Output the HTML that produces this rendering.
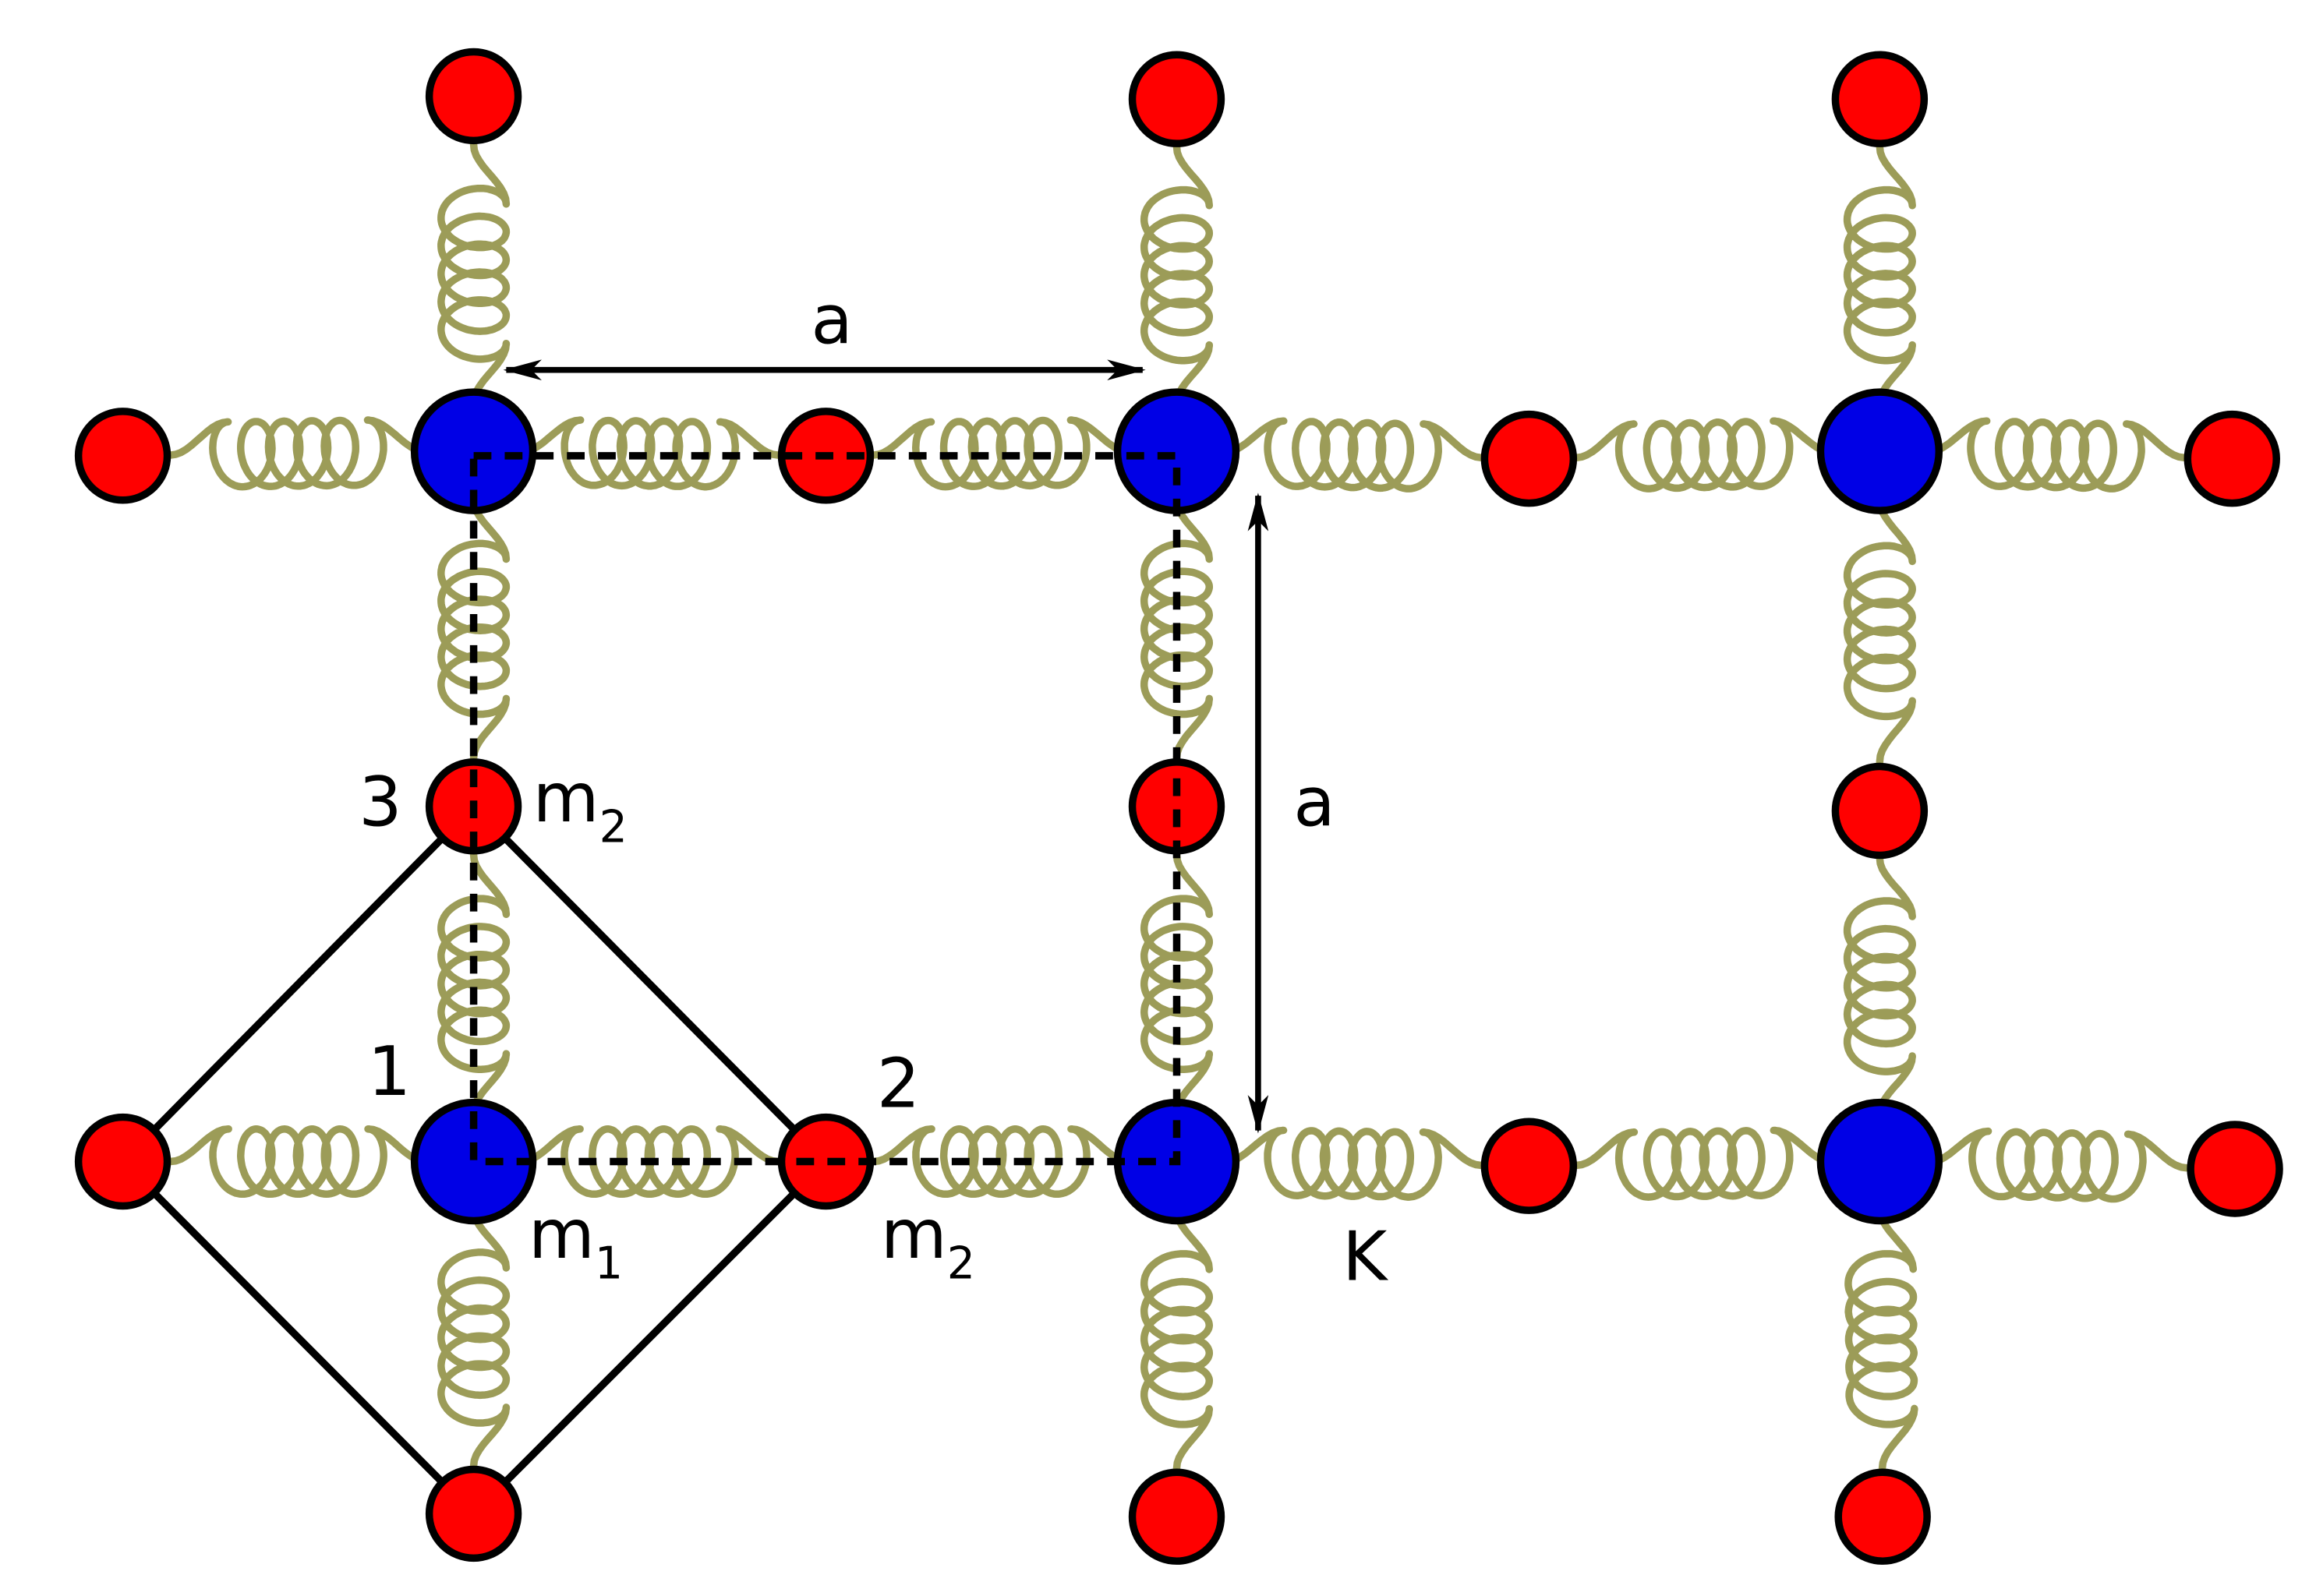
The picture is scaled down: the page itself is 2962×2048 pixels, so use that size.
<!DOCTYPE html>
<html><head><meta charset="utf-8"><style>html,body{margin:0;padding:0;background:#fff}svg{display:block}</style></head>
<body>
<svg id="s" width="2962" height="2048" viewBox="0 0 1560 1078.6" preserveAspectRatio="none" xmlns="http://www.w3.org/2000/svg" font-family="DejaVu Sans, Liberation Sans, sans-serif">
<defs><marker id="ah" markerWidth="26" markerHeight="14" refX="24" refY="7" orient="auto-start-reverse" markerUnits="userSpaceOnUse" viewBox="0 0 26 14"><path d="M0,0 L26,7 L0,14 L7,7 Z" fill="#000"/></marker></defs>
<g id="springs"></g>
<g id="diamond"></g>
<g id="nodes"></g>
<g id="dash"></g>
<g id="arrows"></g>
<g id="labels" font-size="46" fill="#000"></g>
</svg>
<script>
const NS='http://www.w3.org/2000/svg';
const blueNodes=[[320,305],[795,305],[1270,305],[320,785],[795,785],[1270,785]];
const redNodes=[[320,65],[795,67],[1270,67],[83,308],[558,308],[1033,310],[1508,310],[320,545],[795,545],[1270,548],[83,785],[558,785],[1033,788],[1510,790],[320,1023],[795,1025],[1272,1025]];
const hSprings=[[[83,308],[320,305]],[[320,305],[558,308]],[[558,308],[795,305]],[[795,305],[1033,310]],[[1033,310],[1270,305]],[[1270,305],[1508,310]],
 [[83,785],[320,785]],[[320,785],[558,785]],[[558,785],[795,785]],[[795,785],[1033,788]],[[1033,788],[1270,785]],[[1270,785],[1510,790]]];
const vSprings=[[[320,65],[320,305]],[[320,305],[320,545]],[[320,545],[320,785]],[[320,785],[320,1023]],
 [[795,67],[795,305]],[[795,305],[795,545]],[[795,545],[795,785]],[[795,785],[795,1025]],
 [[1270,67],[1270,305]],[[1270,305],[1270,548]],[[1270,548],[1270,785]],[[1270,785],[1272,1025]]];
function el(tag,attrs,parent){const e=document.createElementNS(NS,tag);for(const k in attrs)e.setAttribute(k,attrs[k]);document.getElementById(parent).appendChild(e);return e;}
function smooth(t){return 0.5-0.5*Math.cos(Math.PI*t);}
function spring(a,b){
  const dx=b[0]-a[0],dy=b[1]-a[1],L=Math.hypot(dx,dy),ux=dx/L,uy=dy/L,px=-uy,py=ux;
  const pts=[];const R=22,rx=15,n=5,pitch=3.0;
  const coil=2*Math.PI*n*pitch;
  const s0=(L-coil)/2;
  for(let i=0;i<=20;i++){const t=i/20;const s=t*s0;pts.push([s,t<0.45?0:-R*smooth((t-0.45)/0.55)]);}
  const end=2*Math.PI*n;
  for(let th=0;th<=end+1e-6;th+=0.08){pts.push([s0+pitch*th-rx*Math.sin(th),-R*Math.cos(th)]);}
  const ls=s0+pitch*end;
  for(let i=0;i<=20;i++){const t=i/20;const s=ls+t*(L-ls);pts.push([s,t>0.55?0:-R*(1-smooth(t/0.55))]);}
  return 'M'+pts.map(p=>[(a[0]+ux*p[0]+px*p[1]).toFixed(1),(a[1]+uy*p[0]+py*p[1]).toFixed(1)].join(',')).join('L');
}
hSprings.concat(vSprings).forEach((sp,i)=>{const p=el('path',{d:spring(sp[0],sp[1]),fill:'none',stroke:'#9c9c58','stroke-width':5,'stroke-linejoin':'round'},'springs');

});
const dpts=[[83,785],[320,545],[558,785],[320,1023]];
const dm=el('polygon',{points:dpts.map(p=>p.join(',')).join(' '),fill:'none',stroke:'#000','stroke-width':5},'diamond');


blueNodes.forEach((n,i)=>{const c=el('circle',{cx:n[0],cy:n[1],r:40,fill:'#0000e6',stroke:'#000','stroke-width':5},'nodes');

});
redNodes.forEach((n,i)=>{const c=el('circle',{cx:n[0],cy:n[1],r:30,fill:'#ff0000',stroke:'#000','stroke-width':5},'nodes');

});
const sq=el('polygon',{points:'320,308 795,308 795,785 320,785',fill:'none',stroke:'#000','stroke-width':5,'stroke-dasharray':'12,9'},'dash');


const a1=el('line',{x1:342,y1:250,x2:772,y2:250,stroke:'#000','stroke-width':4,'marker-end':'url(#ah)','marker-start':'url(#ah)'},'arrows');


const a2=el('line',{x1:850,y1:335,x2:850,y2:764,stroke:'#000','stroke-width':4,'marker-end':'url(#ah)','marker-start':'url(#ah)'},'arrows');


const labels=[['a',562,232,'label-a-horizontal',''],['a',888,558,'label-a-vertical',''],['3',257,558,'label-3',''],['m',360,555,'label-m2-top','2'],['1',263,740,'label-1',''],['2',607,748,'label-2',''],['m',357,850,'label-m1','1'],['m',595,850,'label-m2-bottom','2'],['K',922,865,'label-k','']];
labels.forEach(l=>{const t=el('text',{x:l[1],y:l[2],'text-anchor':l[4]?'start':'middle'},'labels');t.textContent=l[0];
if(l[4]){const s=document.createElementNS(NS,'tspan');s.setAttribute('font-size','30');s.setAttribute('dy','14');s.textContent=l[4];t.appendChild(s);}

});
</script>
</body></html>
